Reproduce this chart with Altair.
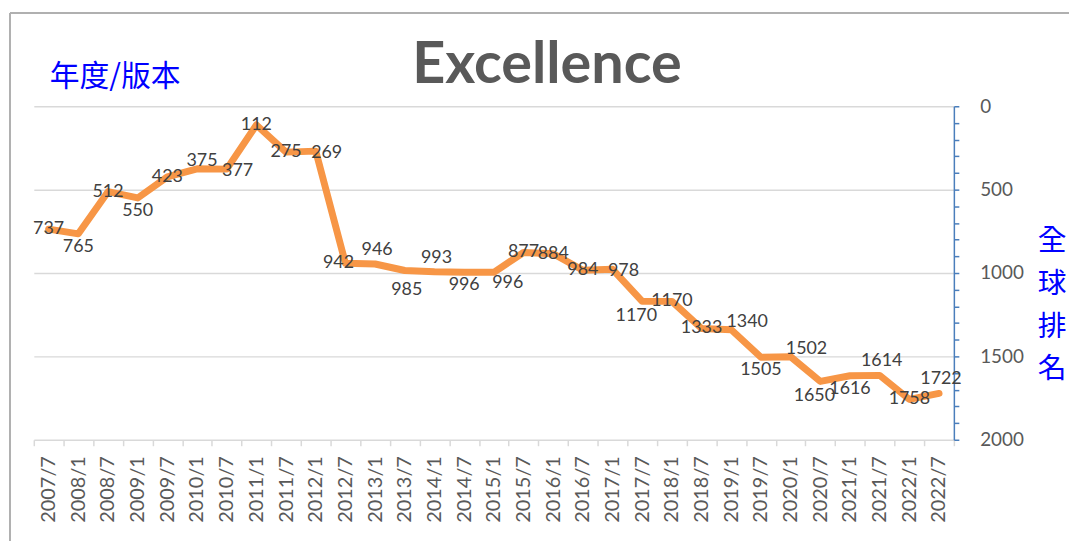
import altair as alt
import pandas as pd

periods = ["2007/7", "2008/1", "2008/7", "2009/1", "2009/7", "2010/1", "2010/7",
           "2011/1", "2011/7", "2012/1", "2012/7", "2013/1", "2013/7", "2014/1",
           "2014/7", "2015/1", "2015/7", "2016/1", "2016/7", "2017/1", "2017/7",
           "2018/1", "2018/7", "2019/1", "2019/7", "2020/1", "2020/7", "2021/1",
           "2021/7", "2022/1", "2022/7"]
ranks = [737, 765, 512, 550, 423, 375, 377, 112, 275, 269, 942, 946, 985, 993,
         996, 996, 877, 884, 984, 978, 1170, 1170, 1333, 1340, 1505, 1502, 1650,
         1616, 1614, 1758, 1722]
# where each data label sits relative to its point (style codes, see OFFSETS)
label_place = ["c", "b", "c", "b", "c", "a2", "r", "c", "c", "r", "l", "a", "b2",
               "a", "b", "br", "c", "c", "c", "r", "bl", "c", "c", "ar", "b", "ar",
               "bl", "b", "a", "c", "a"]

TITLE = "Excellence"
X_NOTE = "年度/版本"
Y_NOTE = "全\n球\n排\n名"

# label nudges in pixels (dx, dy)
OFFSETS = {"c": (0, 0), "a": (2, -14), "a2": (5, -8), "b": (0, 13), "b2": (2, 20),
           "r": (11, 2), "l": (-7, 0), "br": (14, 11), "ar": (16, -8), "bl": (-6, 15)}

df = pd.DataFrame({"period": periods, "rank": ranks, "place": label_place})

x = alt.X("period:N", sort=periods, bandPosition=0.5,
          scale=alt.Scale(type="band", paddingInner=0, paddingOuter=0),
          axis=alt.Axis(title=None, labelAngle=-90, labelFont="Lato", labelFontSize=20,
                        labelColor="#595959", labelPadding=10, tickBand="extent",
                        domainColor="#d9d9d9", domainWidth=1.5, tickColor="#d9d9d9",
                        tickWidth=1.5, tickSize=6, grid=False, labelOverlap=False))
y = alt.Y("rank:Q",
          scale=alt.Scale(domain=[0, 2000], reverse=True, nice=False),
          axis=alt.Axis(orient="right", title=None, values=list(range(0, 2001, 100)),
                        format="d",
                        labelExpr="datum.value % 500 === 0 ? datum.label : ''",
                        labelFont="Lato", labelFontSize=19, labelColor="#595959",
                        labelPadding=21, labelOverlap=False,
                        domainColor="#4a7ebb", domainWidth=1.5,
                        tickColor="#4a7ebb", tickWidth=1.5, tickSize=5,
                        grid=True, gridColor="#d9d9d9", gridWidth=1.5,
                        gridOpacity={"condition": {"test": "datum.value % 500 === 0 && datum.value < 2000", "value": 1}, "value": 0}))

base = alt.Chart(df)
line = base.mark_line(color="#f79646", strokeWidth=7, strokeJoin="round",
                      strokeCap="round").encode(x=x, y=y)

label_layers = [
    base.transform_filter(alt.datum.place == p)
    .mark_text(font="Lato", fontSize=18, color="#404040", dx=d[0], dy=d[1],
               baseline="middle", align="center")
    .encode(x=x, y=y, text=alt.Text("rank:Q", format="d"))
    for p, d in OFFSETS.items()
]

one = pd.DataFrame({"t": [TITLE], "xn": [X_NOTE], "yn": [Y_NOTE]})
title = alt.Chart(one).mark_text(font="Lato", fontSize=58, fontWeight="bold",
                                 color="#595959", align="center",
                                 baseline="alphabetic").encode(
    text="t:N", x=alt.value(517), y=alt.value(-23))
xnote = alt.Chart(one).mark_text(font="Noto Sans CJK TC", fontSize=30, color="#0000ff",
                                 align="left", baseline="middle").encode(
    text="xn:N", x=alt.value(16), y=alt.value(-29))
ynote = alt.Chart(one).mark_text(font="Noto Sans CJK TC", fontSize=29, color="#0000ff",
                                 align="center", baseline="top", lineBreak="\n",
                                 lineHeight=43).encode(
    text="yn:N", x=alt.value(1026), y=alt.value(122))
frame_left = alt.Chart(one).mark_rule(color="#b0b0b0", strokeWidth=2).encode(
    x=alt.value(-24), y=alt.value(-94), y2=alt.value(445))
frame_top = alt.Chart(one).mark_rule(color="#b0b0b0", strokeWidth=2).encode(
    x=alt.value(-24), x2=alt.value(1045), y=alt.value(-94))

chart = alt.layer(line, *label_layers, title, xnote, ynote, frame_left, frame_top).properties(
    width=927, height=336,
    autosize=alt.AutoSizeParams(type="none"),
    padding={"left": 26, "top": 97, "right": 116, "bottom": 100},
    background="white",
).configure_view(stroke=None)

chart.save("out.html", embed_options={"renderer": "svg", "actions": False})
